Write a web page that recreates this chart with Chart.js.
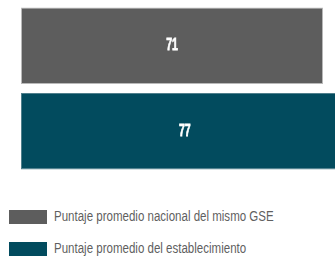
<!DOCTYPE html>
<html>
<head>
<meta charset="utf-8">
<script src="https://cdn.jsdelivr.net/npm/chart.js@4"></script>
<style>
  html, body { margin: 0; padding: 0; background: #fff; overflow: hidden; }
  #wrap { position: relative; width: 335px; height: 261px; }
  #chartBox { position: absolute; left: 0; top: 0; width: 335px; height: 180px; }
  .leg-row { position: absolute; left: 9px; height: 14px; display: flex; align-items: center; }
  .leg-box { width: 38px; height: 14px; flex: none; margin-right: 7px; }
  .leg-text { font-family: "Liberation Sans", Arial, sans-serif; font-size: 14px; color: #5f5f5f;
              white-space: nowrap; display: inline-block; transform: scaleX(0.823); transform-origin: left center;
              position: relative; top: -1px; }
</style>
</head>
<body>
<div id="wrap">
  <div id="chartBox"><canvas id="barChart"></canvas></div>
  <div id="legend"></div>
</div>
<script>
// ── DATA ──
const seriesLabels = ['Puntaje promedio nacional del mismo GSE', 'Puntaje promedio del establecimiento'];
const seriesValues = [71, 77];
const seriesColors = ['#5d5d5d', '#024b5e'];
const seriesBorders = ['#b9b9b9', '#4f7f8c'];

// x range visible in the picture (the 77 bar runs off the right edge)
const X_MAX = 73.8;

// ── VALUE LABELS INSIDE BARS ──
const valueLabels = {
  id: 'valueLabels',
  afterDatasetsDraw(chart) {
    const ctx = chart.ctx;
    const meta = chart.getDatasetMeta(0);
    ctx.save();
    ctx.fillStyle = '#ffffff';
    ctx.strokeStyle = '#ffffff';
    ctx.lineWidth = 0.8;
    ctx.font = 'bold 17px "Liberation Sans", Arial, sans-serif';
    ctx.textAlign = 'center';
    ctx.textBaseline = 'middle';
    meta.data.forEach((bar, i) => {
      const cx = (bar.x + bar.base) / 2;
      ctx.save();
      ctx.translate(cx, bar.y);
      ctx.scale(0.62, 1);  // condensed look
      ctx.fillText(String(seriesValues[i]), 0, 0);
      ctx.strokeText(String(seriesValues[i]), 0, 0);
      ctx.restore();
    });
    ctx.restore();
  }
};

const ctxBar = document.getElementById('barChart');
new Chart(ctxBar, {
  type: 'bar',
  data: {
    labels: seriesLabels,
    datasets: [{
      data: seriesValues,
      backgroundColor: seriesColors,
      borderColor: seriesBorders,
      borderWidth: 1,
      borderSkipped: false,
      categoryPercentage: 1,
      barPercentage: 0.895
    }]
  },
  options: {
    indexAxis: 'y',
    responsive: true,
    maintainAspectRatio: false,
    animation: false,
    layout: { padding: { left: 21, right: 0, top: 3, bottom: 6 } },
    scales: {
      x: { display: false, min: 0, max: X_MAX },
      y: { display: false }
    },
    plugins: {
      legend: { display: false },
      tooltip: { enabled: false }
    }
  },
  plugins: [valueLabels]
});

// ── LEGEND ──
const legendEl = document.getElementById('legend');
const legendTops = [210, 242];
seriesLabels.forEach((label, i) => {
  const row = document.createElement('div');
  row.className = 'leg-row';
  row.style.top = legendTops[i] + 'px';
  row.innerHTML = '<div class="leg-box" style="background:' + seriesColors[i] + '"></div>' +
                  '<span class="leg-text">' + label + '</span>';
  legendEl.appendChild(row);
});
</script>
</body>
</html>
